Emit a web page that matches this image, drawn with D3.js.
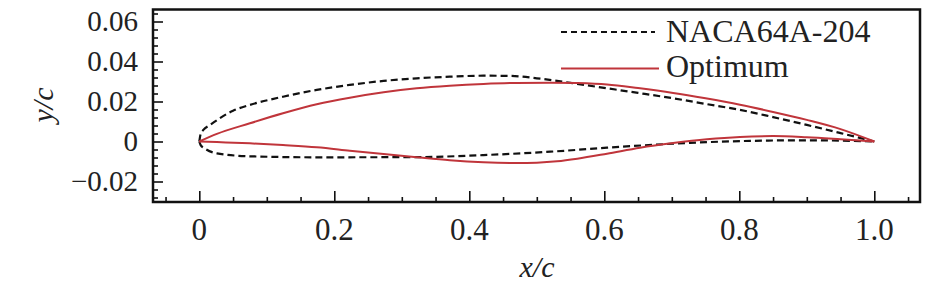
<!DOCTYPE html>
<html>
<head>
<meta charset="utf-8">
<script src="https://cdn.jsdelivr.net/npm/d3@7"></script>
<style>
  body { margin: 0; background: #fff; }
</style>
</head>
<body>
<div id="chart"></div>
<script>
// Airfoil coordinates (x/c, y/c)
const nacaUpper = [
  [0, 0], [0.002, 0.0038], [0.006, 0.0058], [0.016, 0.0083], [0.05, 0.0154], [0.075, 0.0183],
  [0.124, 0.0224], [0.174, 0.0258], [0.223, 0.0283], [0.273, 0.0303], [0.322, 0.0316],
  [0.371, 0.0324], [0.421, 0.0329], [0.46, 0.0328], [0.5, 0.0316], [0.55, 0.0293],
  [0.604, 0.0266], [0.65, 0.0243], [0.702, 0.0216], [0.75, 0.0188], [0.801, 0.0158],
  [0.85, 0.0122], [0.9, 0.0083], [0.95, 0.0042], [1.0, 0]
]
const nacaLower = [
  [0, 0], [0.002, -0.0018], [0.0085, -0.0036], [0.026, -0.0059], [0.075, -0.0074], [0.174, -0.0079],
  [0.322, -0.0078], [0.421, -0.0068], [0.52, -0.0051], [0.604, -0.0031], [0.702, -0.0011],
  [0.801, 0.0002], [0.9, 0.0006], [1.0, 0]
]
const optUpper = [
  [0, 0], [0.026, 0.0038], [0.075, 0.0091], [0.124, 0.0141], [0.174, 0.0186], [0.223, 0.0219],
  [0.273, 0.0246], [0.322, 0.0266], [0.371, 0.0279], [0.421, 0.0288], [0.47, 0.0293],
  [0.52, 0.0294], [0.56, 0.0292], [0.604, 0.0285], [0.65, 0.0267], [0.702, 0.0243],
  [0.75, 0.0216], [0.801, 0.0184], [0.85, 0.0148], [0.9, 0.0108], [0.95, 0.0062], [1.0, 0]
]
const optLower = [
  [0, 0], [0.026, -0.0003], [0.075, -0.0009], [0.124, -0.0018], [0.174, -0.0029], [0.223, -0.0046],
  [0.273, -0.0063], [0.322, -0.0079], [0.371, -0.0094], [0.421, -0.0104], [0.47, -0.0108],
  [0.5, -0.0106], [0.53, -0.0099], [0.56, -0.0086], [0.604, -0.0061], [0.653, -0.0031],
  [0.702, -0.0008], [0.752, 0.0011], [0.801, 0.0023], [0.85, 0.0027], [0.9, 0.0021],
  [0.95, 0.0011], [1.0, 0]
]
const xTicks = [0, 0.2, 0.4, 0.6, 0.8, 1.0]
const xTickLabels = ['0', '0.2', '0.4', '0.6', '0.8', '1.0']
const yTicks = [-0.02, 0, 0.02, 0.04, 0.06]
const yTickLabels = ['\u22120.02', '0', '0.02', '0.04', '0.06']
const seriesNames = ['NACA64A-204', 'Optimum']

const width = 945
const height = 291
const margin = {left: 153, right: 25, top: 9.5, bottom: 89}
const w = width - margin.left - margin.right
const h = height - margin.top - margin.bottom
const red = '#c0353b'
const serif = '"Liberation Serif", "Times New Roman", Times, serif'

const svg = d3.select('#chart')
  .append('svg')
  .attr('width', width)
  .attr('height', height)

const xScale = d3.scaleLinear().domain([-0.0686, 1.0677]).range([0, w])
const yScale = d3.scaleLinear().domain([-0.03025, 0.066]).range([h, 0])

const g = svg.append('g')
  .attr('transform', `translate(${margin.left},${margin.top})`)

// Minor and major ticks, pointing inward
const xMinor = d3.range(-0.05, 1.0501, 0.05).filter(v => !xTicks.some(t => Math.abs(t - v) < 1e-6))
const yMinor = d3.range(-0.028, 0.0641, 0.004).filter(v => !yTicks.some(t => Math.abs(t - v) < 1e-6))

g.append('g').attr('transform', `translate(0,${h})`)
  .call(d3.axisTop(xScale).tickValues(xMinor).tickSize(5).tickFormat('').tickSizeOuter(0))
g.append('g').attr('transform', `translate(0,${h})`)
  .call(d3.axisTop(xScale).tickValues(xTicks).tickSize(11).tickFormat('').tickSizeOuter(0))

g.append('g')
  .call(d3.axisRight(yScale).tickValues(yMinor).tickSize(5).tickFormat('').tickSizeOuter(0))
g.append('g')
  .call(d3.axisRight(yScale).tickValues(yTicks).tickSize(10).tickFormat('').tickSizeOuter(0))

g.selectAll('.domain').remove()
g.selectAll('.tick line').attr('stroke', '#111').attr('stroke-width', 1.6)

// Tick labels
g.selectAll('.xlab')
  .data(xTicks)
  .join('text')
  .attr('class', 'xlab')
  .attr('x', d => xScale(d))
  .attr('y', h + 38)
  .attr('text-anchor', 'middle')
  .style('font-family', serif)
  .style('font-size', '31px')
  .style('fill', '#222')
  .text((d, i) => xTickLabels[i])

g.selectAll('.ylab')
  .data(yTicks)
  .join('text')
  .attr('class', 'ylab')
  .attr('x', -15)
  .attr('y', d => yScale(d))
  .attr('dy', '0.34em')
  .attr('text-anchor', 'end')
  .style('font-family', serif)
  .style('font-size', '29px')
  .style('fill', '#222')
  .text((d, i) => yTickLabels[i])

// Axis titles
svg.append('text')
  .attr('x', 537)
  .attr('y', 276.5)
  .attr('text-anchor', 'middle')
  .style('font-family', serif)
  .style('font-size', '30px')
  .style('font-style', 'italic')
  .style('fill', '#222')
  .text('x/c')

svg.append('text')
  .attr('transform', 'translate(53,105) rotate(-90)')
  .attr('text-anchor', 'middle')
  .style('font-family', serif)
  .style('font-size', '30px')
  .style('font-style', 'italic')
  .style('fill', '#222')
  .text('y/c')

// Airfoil surfaces, each drawn LE -> TE
const line = d3.line()
  .curve(d3.curveMonotoneX)
  .x(d => xScale(d[0]))
  .y(d => yScale(d[1]))

g.selectAll('.naca')
  .data([nacaUpper, nacaLower])
  .join('path')
  .attr('class', 'naca')
  .attr('d', d => line(d))
  .attr('fill', 'none')
  .attr('stroke', '#111')
  .attr('stroke-width', 2.2)
  .attr('stroke-dasharray', '7,4')

g.selectAll('.opt')
  .data([optUpper, optLower])
  .join('path')
  .attr('class', 'opt')
  .attr('d', d => line(d))
  .attr('fill', 'none')
  .attr('stroke', red)
  .attr('stroke-width', 2)

// Legend
const legend = svg.append('g')
legend.append('line')
  .attr('x1', 561).attr('x2', 655)
  .attr('y1', 32).attr('y2', 32)
  .attr('stroke', '#111')
  .attr('stroke-width', 2)
  .attr('stroke-dasharray', '6,4')
legend.append('line')
  .attr('x1', 561).attr('x2', 659)
  .attr('y1', 68.5).attr('y2', 68.5)
  .attr('stroke', red)
  .attr('stroke-width', 2)
legend.selectAll('.legtext')
  .data(seriesNames)
  .join('text')
  .attr('class', 'legtext')
  .attr('x', 666)
  .attr('y', (d, i) => 41.5 + i * 35)
  .style('font-family', serif)
  .style('font-size', '32px')
  .style('fill', '#222')
  .text(d => d)

// Frame
svg.append('rect')
  .attr('x', margin.left)
  .attr('y', margin.top)
  .attr('width', w)
  .attr('height', h)
  .attr('fill', 'none')
  .attr('stroke', '#111')
  .attr('stroke-width', 2.5)
</script>
</body>
</html>
